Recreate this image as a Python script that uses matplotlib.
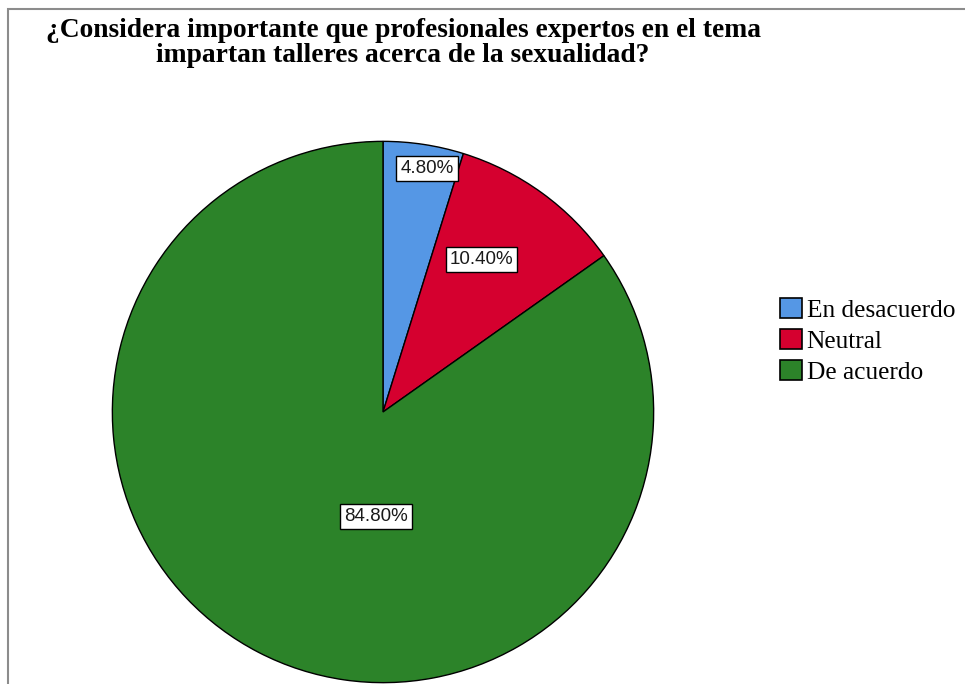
import numpy as np
import matplotlib as mpl
import matplotlib.pyplot as plt

# Data
categories = ['En desacuerdo', 'Neutral', 'De acuerdo']
percentages = [4.80, 10.40, 84.80]
colors = ['#5597E5', '#D5002F', '#2C8329']
title_lines = ['¿Considera importante que profesionales expertos en el tema',
               'impartan talleres acerca de la sexualidad?']

# label anchor offsets (radius, angle in degrees) used by SPSS-like placement
label_pos = [(0.915, 79.8), (0.67, 57.1), (0.387, 266.0)]

W, H = 965, 684
fig = plt.figure(figsize=(W / 100, H / 100), dpi=100)

# Outer gray frame (left and top visible, right/bottom cut off)
frame = mpl.patches.Rectangle((8 / W, -0.1), 1.2, (H - 9) / H + 0.1, transform=fig.transFigure,
                              fill=False, edgecolor='#8c8c8c', linewidth=1.5)
fig.patches.append(frame)

# Pie axes: center (383, 412) px, radius 272 px
cx, cy, r = 383, 412, 272
ax = fig.add_axes([(cx - r) / W, (H - cy - r) / H, 2 * r / W, 2 * r / H])
wedges, _ = ax.pie(percentages, colors=colors, startangle=90, counterclock=False,
                   radius=1.0, wedgeprops=dict(edgecolor='black', linewidth=1.0))
ax.set_xlim(-1.005, 1.005)
ax.set_ylim(-1.005, 1.005)
ax.set_aspect('equal')
ax.axis('off')

for pct, (rr, ang) in zip(percentages, label_pos):
    a = np.deg2rad(ang)
    ax.text(rr * np.cos(a), rr * np.sin(a), '%.2f%%' % pct, ha='center', va='center',
            fontsize=13.5, family='Liberation Sans', color='#1a1a1a',
            bbox=dict(boxstyle='square,pad=0.22', facecolor='white', edgecolor='black', linewidth=1.0))

# Title, one baseline per line
for i, line in enumerate(title_lines):
    fig.text(403 / W, 1 - (37 + 25 * i) / H, line, ha='center', va='baseline', fontsize=19.8,
             fontweight='bold', family='Liberation Serif')

# Legend
handles = [mpl.patches.Patch(facecolor=c, edgecolor='black', linewidth=1.2) for c in colors]
fig.legend(handles, categories, loc='center left', bbox_to_anchor=(780 / W, 1 - 341 / H),
           frameon=False, prop={'family': 'Liberation Serif', 'size': 18.3},
           handlelength=0.85, handleheight=0.85, handletextpad=0.2, labelspacing=0.28,
           borderpad=0, borderaxespad=0)

fig.savefig('out.png', dpi=100, facecolor='white')
